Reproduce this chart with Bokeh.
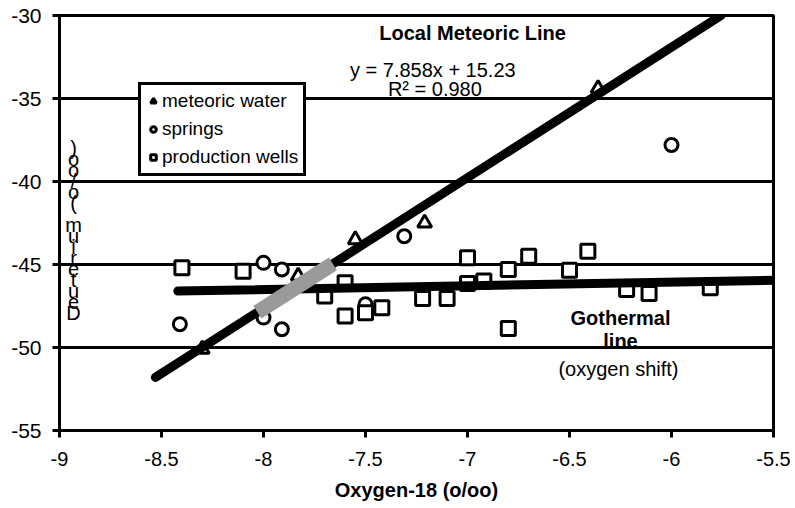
from bokeh.plotting import figure
from bokeh.models import Label, Legend, LegendItem, FixedTicker
from bokeh.embed import file_html
from bokeh.resources import INLINE

# ---- data ----
meteoric_x = [-7.55, -7.21, -6.36, -7.83, -8.30]
meteoric_y = [-43.5, -42.5, -34.4, -45.7, -50.1]

springs_x = [-8.41, -8.00, -7.91, -8.00, -7.91, -7.50, -7.31, -6.00]
springs_y = [-48.6, -44.9, -45.3, -48.2, -48.9, -47.4, -43.3, -37.8]

wells_x = [-8.40, -8.10, -7.70, -7.60, -7.60, -7.50, -7.42, -7.22, -7.10, -7.00,
           -7.00, -6.92, -6.80, -6.80, -6.70, -6.50, -6.41, -6.22, -6.11, -5.81]
wells_y = [-45.2, -45.4, -46.9, -46.1, -48.1, -47.9, -47.6, -47.05, -47.05, -44.6,
           -46.15, -46.0, -45.3, -48.85, -44.5, -45.35, -44.2, -46.5, -46.75, -46.4]

lml_x = [-8.53, -5.757]          # local meteoric line (y = 7.858x + 15.23)
lml_y = [-51.8, -30.0]
overlap_x = [-8.03, -7.66]       # grey part of the meteoric line
overlap_y = [-47.87, -44.96]
geo_x = [-8.42, -5.50]           # geothermal line
geo_y = [-46.6, -45.95]

x_ticks = [-9, -8.5, -8, -7.5, -7, -6.5, -6, -5.5]
x_tick_labels = ["-9", "-8.5", "-8", "-7.5", "-7", "-6.5", "-6", "-5.5"]
y_ticks = [-55, -50, -45, -40, -35, -30]
y_tick_labels = ["-55", "-50", "-45", "-40", "-35", "-30"]

FONT = "Liberation Sans"

p = figure(width=795, height=508, x_range=(-9, -5.5), y_range=(-55, -30),
           output_backend="svg", toolbar_location=None,
           min_border_left=59, min_border_right=22, min_border_top=15, min_border_bottom=78)
p.background_fill_color = "white"
p.border_fill_color = "white"
p.outline_line_color = "black"
p.outline_line_width = 3

p.xgrid.visible = False
p.ygrid.ticker = FixedTicker(ticks=y_ticks)
p.ygrid.grid_line_color = "black"
p.ygrid.grid_line_width = 3

p.xaxis.ticker = FixedTicker(ticks=x_ticks)
p.xaxis.major_label_overrides = dict(zip(x_ticks, x_tick_labels))
p.yaxis.ticker = FixedTicker(ticks=y_ticks)
p.yaxis.major_label_overrides = dict(zip(y_ticks, y_tick_labels))
for ax in (p.xaxis[0], p.yaxis[0]):
    ax.axis_line_color = "black"
    ax.axis_line_width = 3
    ax.major_tick_line_color = "black"
    ax.major_tick_line_width = 3
    ax.major_tick_out = 7
    ax.major_tick_in = 0
    ax.minor_tick_line_color = None
    ax.major_label_text_font = FONT
    ax.major_label_text_color = "black"
p.xaxis.major_label_text_font_size = "20px"
p.yaxis.major_label_text_font_size = "21px"
p.xaxis.major_label_standoff = 14
p.yaxis.major_label_standoff = 11
p.xaxis.axis_label = "Oxygen-18 (o/oo)"
p.xaxis.axis_label_text_font = FONT
p.xaxis.axis_label_text_font_style = "bold"
p.xaxis.axis_label_text_font_size = "20px"
p.xaxis.axis_label_text_color = "black"
p.xaxis.axis_label_standoff = 10

# markers
r_met = p.scatter(meteoric_x, meteoric_y, marker="triangle", size=14,
                  fill_color="white", line_color="black", line_width=3)
r_spr = p.scatter(springs_x, springs_y, marker="circle", size=13,
                  fill_color="white", line_color="black", line_width=3)
r_wel = p.scatter(wells_x, wells_y, marker="square", size=14,
                  fill_color="white", line_color="black", line_width=3)

# lines
p.line(geo_x, geo_y, line_color="black", line_width=9, line_cap="round")
p.line(lml_x, lml_y, line_color="black", line_width=9, line_cap="round")
p.line(overlap_x, overlap_y, line_color="#9a9a9a", line_width=15)

legend = Legend(items=[LegendItem(label="meteoric water", renderers=[r_met]),
                       LegendItem(label="springs", renderers=[r_spr]),
                       LegendItem(label="production wells", renderers=[r_wel])],
                location=(79, 254), orientation="vertical",
                label_text_font=FONT, label_text_font_size="19px",
                label_text_color="black", glyph_width=14, glyph_height=18,
                label_standoff=2, spacing=6, padding=5, margin=0,
                border_line_color="black", border_line_width=3, border_line_alpha=1,
                background_fill_color="white", background_fill_alpha=1)
p.add_layout(legend, "center")

def add_label(x, y, text, size, bold=False):
    p.add_layout(Label(x=x, y=y, text=text, text_font=FONT, text_font_size=size,
                       text_font_style="bold" if bold else "normal",
                       text_align="center", text_baseline="middle", text_color="black"))

add_label(-6.975, -31.05, "Local Meteoric Line", "20px", True)
add_label(-7.17, -33.3, "y = 7.858x + 15.23", "20px")
add_label(-7.16, -34.45, "R² = 0.980", "20px")
add_label(-6.25, -48.25, "Gothermal", "20px", True)
add_label(-6.25, -49.6, "line", "20px", True)
add_label(-6.26, -51.3, "(oxygen shift)", "20px")

# stacked y-axis label (characters upright, read bottom to top)
ylab = "\n".join(reversed(list("Deuterium (o/oo)")))
p.add_layout(Label(x=14, y=200, x_units="screen", y_units="screen", text=ylab,
                   text_font=FONT, text_font_size="20px", text_line_height=0.5,
                   text_align="center", text_baseline="middle", text_color="black"))

open("out.html", "w").write(file_html(p, INLINE))
